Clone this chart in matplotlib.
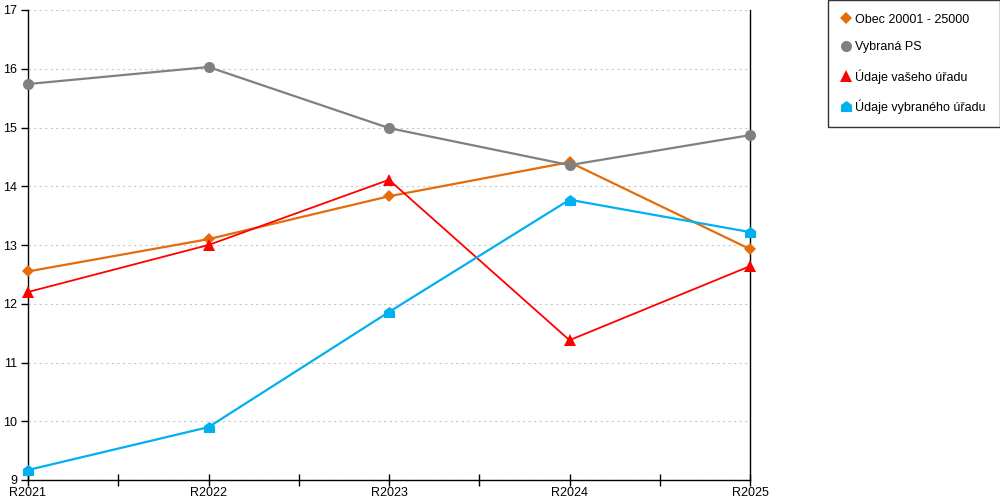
import matplotlib
matplotlib.use("Agg")
import matplotlib.pyplot as plt
from matplotlib.path import Path
from matplotlib.lines import Line2D
from matplotlib.ticker import MultipleLocator

categories = ["R2021", "R2022", "R2023", "R2024", "R2025"]
obec = [12.55, 13.10, 13.83, 14.41, 12.93]
vybrana_ps = [15.74, 16.03, 14.99, 14.36, 14.87]
vaseho = [12.20, 13.00, 14.11, 11.38, 12.64]
vybraneho = [9.17, 9.90, 11.86, 13.77, 13.22]
labels = ["Obec 20001 - 25000", "Vybraná PS", "Údaje vašeho úřadu", "Údaje vybraného úřadu"]
colors = ["#E46C0A", "#808080", "#FF0000", "#00B0F0"]

house = Path([(-1, -1), (1, -1), (1, 0.25), (0, 1), (-1, 0.25), (-1, -1)],
             [Path.MOVETO, Path.LINETO, Path.LINETO, Path.LINETO, Path.LINETO, Path.CLOSEPOLY])

plt.rcParams['font.family'] = ['Liberation Sans', 'DejaVu Sans']
fig = plt.figure(figsize=(10, 5), dpi=100)
ax = fig.add_axes([0.028, 0.04, 0.722, 0.94])

x = list(range(len(categories)))
series = [obec, vybrana_ps, vaseho, vybraneho]
markers = ["D", "o", "^", house]
msizes = [6, 8, 8, 8]
lws = [1.6, 1.6, 1.3, 1.6]
for vals, c, m, ms, lw, lab in zip(series, colors, markers, msizes, lws, labels):
    ax.plot(x, vals, color=c, marker=m, markersize=ms, linewidth=lw,
            markeredgewidth=0, clip_on=False, zorder=3, label=lab)

ax.set_xlim(0, len(categories) - 1)
ax.set_ylim(9, 17)
ax.set_xticks(x)
ax.set_xticklabels(categories)
ax.xaxis.set_minor_locator(MultipleLocator(0.5))
ax.yaxis.set_major_locator(MultipleLocator(1))
ax.tick_params(axis='x', which='both', direction='inout', length=8, width=1, labelsize=9, pad=1)
ax.tick_params(axis='y', which='major', direction='out', length=5, width=1, labelsize=9, pad=3)
for s in ['left', 'bottom', 'right']:
    ax.spines[s].set_color('black')
    ax.spines[s].set_linewidth(1)
ax.spines['top'].set_visible(False)
ax.grid(axis='y', color='#C8C8C8', linestyle=(0, (2, 3)), linewidth=0.8)
ax.set_axisbelow(True)

handles = [Line2D([], [], color=c, marker=m, markersize=ms, linestyle='none', markeredgewidth=0)
           for c, m, ms in zip(colors, markers, msizes)]
leg = fig.legend(handles, labels, loc='upper right', bbox_to_anchor=(0.9995, 1.0),
                 frameon=True, fancybox=False, edgecolor='black', fontsize=9,
                 handlelength=0.7, handletextpad=0.4, labelspacing=1.25,
                 borderpad=1.1, borderaxespad=0)
leg.get_frame().set_linewidth(1)

fig.savefig("out.png", dpi=100)
